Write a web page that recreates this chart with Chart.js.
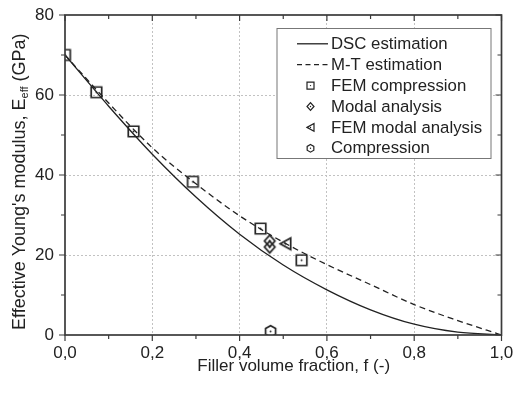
<!DOCTYPE html>
<html>
<head>
<meta charset="utf-8">
<script src="https://cdn.jsdelivr.net/npm/chart.js@4.4.0/dist/chart.umd.min.js"></script>
<style>
  html, body { margin: 0; padding: 0; background: #fff; }
</style>
</head>
<body>
<canvas id="chart" width="517" height="394"></canvas>
<script>
// Filler volume fraction grid used for the two estimation curves
const fraction = [0, 0.1, 0.2, 0.3, 0.4, 0.5, 0.6, 0.7, 0.8, 0.9, 1.0];
const dscEstimation = [70, 57.2, 45.2, 34.5, 25.2, 17.5, 11.3, 6.3, 2.7, 0.7, 0];
const mtEstimation = [70, 58.0, 46.8, 37.8, 29.8, 23.2, 17.6, 12.6, 7.6, 3.6, 0];

// Measured / simulated points
const femCompressionF = [0, 0.072, 0.157, 0.293, 0.448, 0.542];
const femCompressionE = [70, 60.7, 50.9, 38.3, 26.6, 18.7];
const modalF = [0.469, 0.469];
const modalE = [23.5, 22.0];
const femModalF = [0.505];
const femModalE = [22.8];
const compressionF = [0.471];
const compressionE = [0.9];

const seriesNames = ["DSC estimation", "M-T estimation", "FEM compression",
  "Modal analysis", "FEM modal analysis", "Compression"];

// Axis ticks (major + minor)
const xTicks = [0, 0.1, 0.2, 0.3, 0.4, 0.5, 0.6, 0.7, 0.8, 0.9, 1.0];
const yTicks = [0, 10, 20, 30, 40, 50, 60, 70, 80];

const FONT = "'Liberation Sans', Arial, sans-serif";
const INK = "#222";

const toPoints = (xs, ys) => xs.map((v, i) => ({ x: v, y: ys[i] }));

// draw one marker shape centred on (cx, cy)
function drawMarker(ctx, kind, cx, cy, s, lw) {
  const h = s / 2;
  ctx.save();
  ctx.strokeStyle = INK;
  ctx.fillStyle = INK;
  ctx.lineWidth = lw;
  ctx.beginPath();
  if (kind === "square") {
    ctx.rect(cx - h, cy - h, s, s);
  } else if (kind === "diamond") {
    ctx.moveTo(cx, cy - h * 1.12);
    ctx.lineTo(cx + h, cy);
    ctx.lineTo(cx, cy + h * 1.12);
    ctx.lineTo(cx - h, cy);
    ctx.closePath();
  } else if (kind === "triangle") {
    ctx.moveTo(cx - h, cy);
    ctx.lineTo(cx + h, cy - h * 1.1);
    ctx.lineTo(cx + h, cy + h * 1.1);
    ctx.closePath();
  } else if (kind === "hexagon") {
    for (let k = 0; k < 6; k++) {
      const a = -Math.PI / 2 + k * Math.PI / 3;
      const px = cx + Math.cos(a) * h * 1.1;
      const py = cy + Math.sin(a) * h * 1.1;
      if (k === 0) ctx.moveTo(px, py); else ctx.lineTo(px, py);
    }
    ctx.closePath();
  }
  ctx.stroke();
  ctx.beginPath();
  ctx.arc(cx, cy, Math.max(0.7, lw * 0.55), 0, Math.PI * 2);
  ctx.fill();
  ctx.restore();
}

function markerCanvas(kind, s, lw) {
  const c = document.createElement("canvas");
  const size = Math.ceil(s * 1.3 + lw * 2) + 1;
  c.width = size;
  c.height = size;
  drawMarker(c.getContext("2d"), kind, size / 2, size / 2, s, lw);
  return c;
}

const markerKinds = [null, null, "square", "diamond", "triangle", "hexagon"];

// frame, inward/outward ticks, titles and legend
const decorPlugin = {
  id: "decor",
  afterDatasetsDraw(chart) {
    const { ctx, chartArea: a, scales: { x, y } } = chart;
    ctx.save();
    ctx.strokeStyle = "#3a3a3a";
    ctx.lineWidth = 1.7;
    ctx.strokeRect(a.left, a.top, a.right - a.left, a.bottom - a.top);

    ctx.lineWidth = 1.2;
    ctx.beginPath();
    xTicks.forEach((v, i) => {
      const px = x.getPixelForValue(v);
      const len = i % 2 === 0 ? 6 : 4;
      ctx.moveTo(px, a.bottom);
      ctx.lineTo(px, a.bottom + len);
      ctx.moveTo(px, a.top);
      ctx.lineTo(px, a.top + len);
    });
    yTicks.forEach((v, i) => {
      const py = y.getPixelForValue(v);
      const len = i % 2 === 0 ? 6 : 4;
      ctx.moveTo(a.left, py);
      ctx.lineTo(a.left - len, py);
      ctx.moveTo(a.right, py);
      ctx.lineTo(a.right - len, py);
    });
    ctx.stroke();
    ctx.restore();
  },
  afterDraw(chart) {
    const { ctx } = chart;
    ctx.save();
    ctx.fillStyle = INK;

    // x axis title
    ctx.font = "17px " + FONT;
    ctx.textAlign = "center";
    ctx.textBaseline = "middle";
    ctx.fillText("Filler volume fraction, f (-)", 293.7, 366.5);

    // y axis title with subscript
    const main = "Effective Young's modulus, E";
    const sub = "eff";
    const tail = " (GPa)";
    ctx.font = "18px " + FONT;
    const w1 = ctx.measureText(main).width;
    const w3 = ctx.measureText(tail).width;
    ctx.font = "11px " + FONT;
    const w2 = ctx.measureText(sub).width;
    const total = w1 + w2 + w3;
    ctx.translate(18.5, 181.7);
    ctx.rotate(-Math.PI / 2);
    ctx.textAlign = "left";
    ctx.textBaseline = "alphabetic";
    let cx = -total / 2;
    ctx.font = "18px " + FONT;
    ctx.fillText(main, cx, 6.5);
    cx += w1;
    ctx.font = "11px " + FONT;
    ctx.fillText(sub, cx, 9.5);
    cx += w2;
    ctx.font = "18px " + FONT;
    ctx.fillText(tail, cx, 6.5);
    ctx.setTransform(1, 0, 0, 1, 0, 0);

    // legend box
    const bx = 277, by = 28.5, bw = 214, bh = 130;
    ctx.fillStyle = "#fff";
    ctx.fillRect(bx, by, bw, bh);
    ctx.strokeStyle = "#777";
    ctx.lineWidth = 1;
    ctx.strokeRect(bx, by, bw, bh);

    ctx.font = "16.8px " + FONT;
    ctx.textAlign = "left";
    ctx.textBaseline = "middle";
    seriesNames.forEach((name, i) => {
      const ry = 43.8 + i * 20.9;
      if (i < 2) {
        ctx.strokeStyle = INK;
        ctx.lineWidth = 1.3;
        ctx.setLineDash(i === 1 ? [5, 3.5] : []);
        ctx.beginPath();
        ctx.moveTo(297, ry);
        ctx.lineTo(328, ry);
        ctx.stroke();
        ctx.setLineDash([]);
      } else {
        drawMarker(ctx, markerKinds[i], 310.5, ry, 7, 1.2);
      }
      ctx.fillStyle = INK;
      ctx.fillText(name, 331, ry + 0.5);
    });
    ctx.restore();
  }
};

const pointDataset = (label, kind, xs, ys) => ({
  label: label,
  data: toPoints(xs, ys),
  pointStyle: markerCanvas(kind, 10.5, 1.7),
  pointRadius: 5,
  showLine: false,
  borderColor: INK,
  backgroundColor: INK,
});

new Chart(document.getElementById("chart"), {
  type: "scatter",
  data: {
    datasets: [
      {
        label: seriesNames[0],
        data: toPoints(fraction, dscEstimation),
        showLine: true,
        pointRadius: 0,
        borderColor: INK,
        borderWidth: 1.3,
        cubicInterpolationMode: "monotone",
      },
      {
        label: seriesNames[1],
        data: toPoints(fraction, mtEstimation),
        showLine: true,
        pointRadius: 0,
        borderColor: INK,
        borderWidth: 1.3,
        borderDash: [6, 4],
        cubicInterpolationMode: "monotone",
      },
      pointDataset(seriesNames[2], "square", femCompressionF, femCompressionE),
      pointDataset(seriesNames[3], "diamond", modalF, modalE),
      pointDataset(seriesNames[4], "triangle", femModalF, femModalE),
      pointDataset(seriesNames[5], "hexagon", compressionF, compressionE),
    ],
  },
  options: {
    responsive: false,
    animation: false,
    devicePixelRatio: 1,
    layout: { padding: { top: 15, right: 15.5, left: 0, bottom: 0 } },
    plugins: {
      legend: { display: false },
      tooltip: { enabled: false },
    },
    scales: {
      x: {
        type: "linear",
        min: 0,
        max: 1,
        afterFit: (s) => {
          s.height = 59;
          s.paddingLeft = 0;
          s.paddingRight = 0;
        },
        ticks: {
          stepSize: 0.2,
          padding: 8,
          color: INK,
          font: { family: FONT, size: 17 },
          callback: (v) => v.toFixed(1).replace(".", ","),
        },
        grid: {
          drawTicks: false,
          lineWidth: 1,
          color: (c) => (c.tick && c.tick.value > 0 && c.tick.value < 1 ? "#c2c2c2" : "rgba(0,0,0,0)"),
        },
        border: { display: false, dash: [2, 2] },
      },
      y: {
        min: 0,
        max: 80,
        afterFit: (s) => {
          s.width = 65;
          s.paddingTop = 0;
          s.paddingBottom = 0;
        },
        ticks: {
          stepSize: 20,
          padding: 11,
          color: INK,
          font: { family: FONT, size: 17 },
        },
        grid: {
          drawTicks: false,
          lineWidth: 1,
          color: (c) => (c.tick && c.tick.value > 0 && c.tick.value < 80 ? "#c2c2c2" : "rgba(0,0,0,0)"),
        },
        border: { display: false, dash: [2, 2] },
      },
    },
  },
  plugins: [decorPlugin],
});
</script>
</body>
</html>
